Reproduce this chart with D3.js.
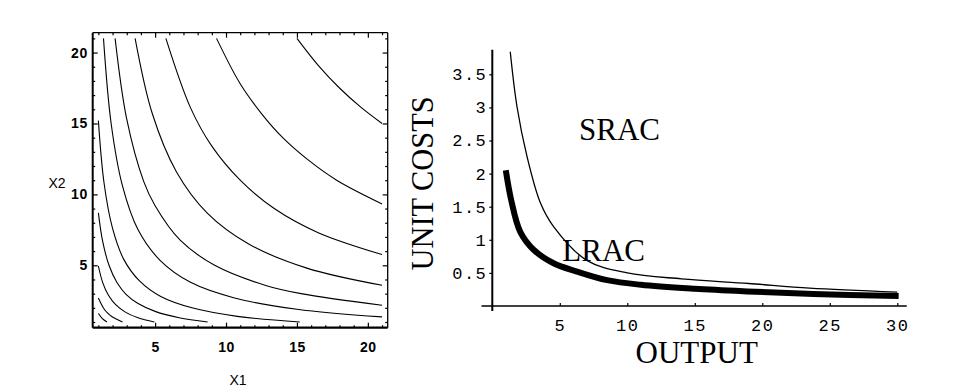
<!DOCTYPE html>
<html>
<head>
<meta charset="utf-8">
<script src="https://cdn.jsdelivr.net/npm/d3@7"></script>
<style>
body { margin: 0; background: #fff; }
</style>
</head>
<body>
<div id="chart"></div>
<script>
// isoquants, [x1, x2] pairs, lowest first
var isoquants = [
	[[1, 1.6], [1.265, 1.265], [1.6, 1]],
	[[1, 2.7], [1.39, 1.94], [1.64, 1.64], [1.94, 1.39], [2.7, 1]],
	[[1, 4.95], [1.3, 3.8], [1.7, 2.9], [2.22, 2.22], [2.9, 1.7], [3.8, 1.3], [4.95, 1]],
	[[1, 8.7], [1.3, 6.7], [1.75, 5], [2.3, 3.8], [2.95, 2.95], [3.8, 2.3], [5, 1.75], [6.7, 1.3], [8.7, 1]],
	[[1, 15.2], [1.4, 10.8], [2, 7.6], [2.8, 5.4], [3.9, 3.9], [5.4, 2.8], [7.6, 2], [10.8, 1.4], [15.2, 1]],
	[[1.36, 21], [1.9, 15], [2.7, 10.6], [3.8, 7.5], [5.35, 5.35], [7.5, 3.8], [10.6, 2.7], [15, 1.9], [21, 1.36]],
	[[2.18, 21], [3, 15.3], [4.2, 10.9], [5, 9.2], [6.77, 6.77], [9.2, 5], [12.8, 3.58], [15.3, 3], [21, 2.18]],
	[[3.59, 21], [4.8, 15.7], [6.5, 11.6], [8.68, 8.68], [11.6, 6.5], [15.7, 4.8], [21, 3.59]],
	[[5.76, 21], [7.5, 16.1], [9, 13.4], [11, 11], [13.4, 9], [16.5, 7.3], [21, 5.76]],
	[[9.33, 21], [11, 17.8], [12.5, 15.7], [14, 14], [15.7, 12.5], [17.8, 11], [21, 9.33]],
	[[15, 21], [16.5, 19.1], [18, 17.5], [19.5, 16.15], [21, 15]]
];
var frameTicks = [5, 10, 15, 20];
var frameMinorTicks = [1, 2, 3, 4, 6, 7, 8, 9, 11, 12, 13, 14, 16, 17, 18, 19, 21];

// cost curves, [output, unit cost]
var sracData = [[1.33, 3.84], [1.83, 3.01], [2.57, 2.26], [3.56, 1.56], [4.54, 1.2],
	[7, 0.69], [10, 0.5], [14, 0.41], [19, 0.34], [23.5, 0.27], [30, 0.21]];
var lracData = [[1, 2.05], [1.4, 1.6], [2.07, 1.12], [3.06, 0.85], [4.54, 0.645], [6.27, 0.52],
	[8.5, 0.39], [11, 0.32], [15, 0.26], [18.9, 0.22], [23.8, 0.18], [30.1, 0.15]];
var costTicks = [0.5, 1, 1.5, 2, 2.5, 3, 3.5];
var outputTicks = [5, 10, 15, 20, 25, 30];

var svg = d3.select("#chart")
			.append("svg")
			.attr("width", 956)
			.attr("height", 389)
			.style("background", "#fff");

//---- left: isoquant map
var x1 = d3.scaleLinear().domain([0.6, 21.4]).range([92.7, 387.7]);
var x2 = d3.scaleLinear().domain([0.6, 21.4]).range([327.7, 32.7]);

var isoLine = d3.line()
				.x(function(d) { return x1(d[0]); })
				.y(function(d) { return x2(d[1]); })
				.curve(d3.curveCatmullRom.alpha(0.5));

svg.append("g")
   .selectAll("path")
   .data(isoquants)
   .enter()
   .append("path")
   .attr("d", isoLine)
   .attr("fill", "none")
   .attr("stroke", "#000")
   .attr("stroke-width", 1.1);

function frameAxis(axis, tr, values, size, labelled, pad) {
	var g = svg.append("g")
			   .attr("transform", tr)
			   .call(axis.tickValues(values).tickSize(-size).tickPadding(pad || 3)
			   			.tickFormat(labelled ? d3.format("d") : ""));
	g.select(".domain").remove();
	g.selectAll("line").attr("stroke", "#000").attr("stroke-width", 1.2);
	g.selectAll("text")
	 .attr("fill", "#000")
	 .style("font-family", "'Liberation Sans', Arial, sans-serif")
	 .style("font-weight", "bold")
	 .style("font-size", "14px")
	 .style("letter-spacing", "0.5px");
}
frameAxis(d3.axisBottom(x1), "translate(0,327.7)", frameTicks, 5, true, 14);
frameAxis(d3.axisLeft(x2), "translate(92.7,0)", frameTicks, 5, true, 5);
frameAxis(d3.axisTop(x1), "translate(0,32.7)", frameTicks, 5, false);
frameAxis(d3.axisRight(x2), "translate(387.7,0)", frameTicks, 5, false);
frameAxis(d3.axisBottom(x1), "translate(0,327.7)", frameMinorTicks, 2.5, false);
frameAxis(d3.axisLeft(x2), "translate(92.7,0)", frameMinorTicks, 2.5, false);
frameAxis(d3.axisTop(x1), "translate(0,32.7)", frameMinorTicks, 2.5, false);
frameAxis(d3.axisRight(x2), "translate(387.7,0)", frameMinorTicks, 2.5, false);

// frame, left and bottom edges heavier
var fx0 = x1.range()[0], fx1 = x1.range()[1], fy0 = x2.range()[1], fy1 = x2.range()[0];
[[fx0, fy0, fx1, fy0, 1.3], [fx1, fy0, fx1, fy1, 1.3], [fx0, fy0, fx0, fy1, 2], [fx0, fy1, fx1, fy1, 2.2]]
	.forEach(function(s) {
		svg.append("line")
		   .attr("x1", s[0]).attr("y1", s[1]).attr("x2", s[2]).attr("y2", s[3])
		   .attr("stroke", "#000").attr("stroke-width", s[4]);
	});

svg.append("text")
   .attr("x", 238).attr("y", 385)
   .attr("text-anchor", "middle")
   .style("font-family", "'Liberation Sans', Arial, sans-serif")
   .style("font-size", "14px")
   .text("X1");
svg.append("text")
   .attr("x", 57).attr("y", 188)
   .attr("text-anchor", "middle")
   .style("font-family", "'Liberation Sans', Arial, sans-serif")
   .style("font-size", "14px")
   .text("X2");

//---- right: cost curves
var out = d3.scaleLinear().domain([0, 30]).range([492.3, 897.3]);
var cost = d3.scaleLinear().domain([0, 3.5]).range([306, 74.3]);

var serif = "'Liberation Serif', 'Times New Roman', serif";
var mono = "'Liberation Mono', 'Courier New', monospace";

// curve labels and axis titles
[["SRAC", 579, 140], ["LRAC", 562.3, 260.5]].forEach(function(t) {
	svg.append("text")
	   .attr("x", t[1]).attr("y", t[2])
	   .style("font-family", serif)
	   .style("font-size", "31px")
	   .text(t[0]);
});
svg.append("text")
   .attr("x", 696.7).attr("y", 363)
   .attr("text-anchor", "middle")
   .style("font-family", serif)
   .style("font-size", "31px")
   .text("OUTPUT");
svg.append("text")
   .attr("transform", "translate(433,183.4) rotate(-90)")
   .attr("text-anchor", "middle")
   .attr("textLength", 174)
   .attr("lengthAdjust", "spacingAndGlyphs")
   .style("font-family", serif)
   .style("font-size", "31px")
   .text("UNIT COSTS");

// axis lines
svg.append("line")
   .attr("x1", out(0)).attr("x2", out(0))
   .attr("y1", cost(3.87)).attr("y2", cost(0) + 5)
   .attr("stroke", "#000").attr("stroke-width", 2);
svg.append("line")
   .attr("x1", out(-0.8)).attr("x2", out(30.7))
   .attr("y1", cost(0)).attr("y2", cost(0))
   .attr("stroke", "#000").attr("stroke-width", 1.6);

function costAxis(axis, tr, values, size, pad) {
	var g = svg.append("g")
			   .attr("transform", tr)
			   .call(axis.tickValues(values).tickSize(size).tickPadding(pad).tickFormat(String));
	g.select(".domain").remove();
	g.selectAll("line").attr("stroke", "#000").attr("stroke-width", 1.2);
	g.selectAll("text")
	 .attr("fill", "#000")
	 .style("font-family", mono)
	 .style("font-size", "17px")
	 .style("letter-spacing", "1.5px");
}
costAxis(d3.axisLeft(cost), "translate(" + out(0) + ",0)", costTicks, 3, 2);
costAxis(d3.axisBottom(out), "translate(0," + cost(0) + ")", outputTicks, -3, 13);

var costLine = d3.line()
				 .x(function(d) { return out(d[0]); })
				 .y(function(d) { return cost(d[1]); })
				 .curve(d3.curveCatmullRom.alpha(0.5));

svg.append("path")
   .datum(sracData)
   .attr("d", costLine)
   .attr("fill", "none")
   .attr("stroke", "#000")
   .attr("stroke-width", 1.3);

svg.append("path")
   .datum(lracData)
   .attr("d", costLine)
   .attr("fill", "none")
   .attr("stroke", "#000")
   .attr("stroke-width", 6);
</script>
</body>
</html>
